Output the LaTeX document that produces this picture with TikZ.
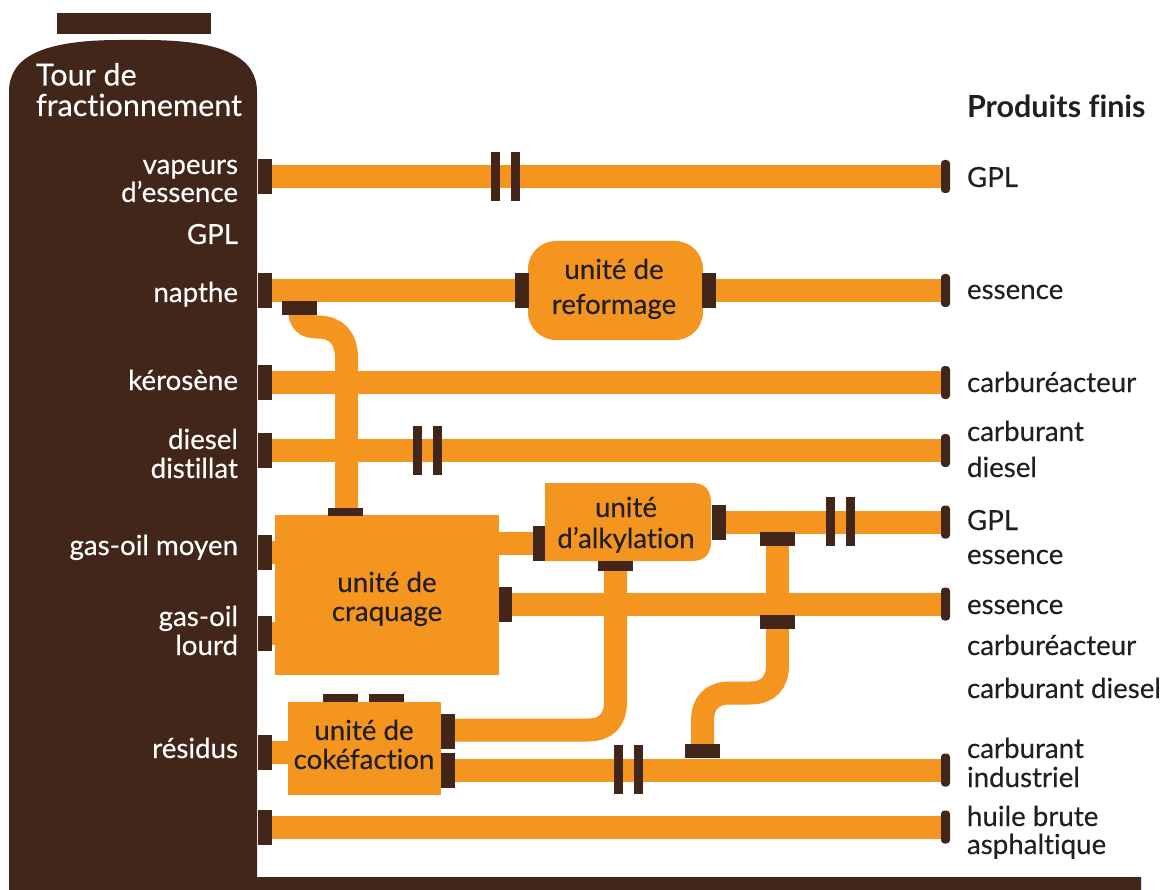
\documentclass[tikz,border=0pt]{standalone}
\usepackage{fontspec}
\setmainfont{Lato}[Ligatures=NoCommon,FakeBold=0.25,BoldFeatures={FakeBold=0}]
\usetikzlibrary{backgrounds}
\definecolor{pipeor}{HTML}{F3951F}
\definecolor{towerbr}{HTML}{42261A}
\definecolor{inkdk}{HTML}{231F20}
\tikzset{
  x=1pt,y=-1pt,
  pipe/.style={draw=pipeor,line width=23pt,line cap=butt},
  vcollar/.style={fill=towerbr,inner sep=0pt,outer sep=0pt,minimum width=14pt,minimum height=35pt},
  hcollar/.style={fill=towerbr,inner sep=0pt,outer sep=0pt,minimum width=35pt,minimum height=14pt},
  thincollar/.style={fill=towerbr,inner sep=0pt,outer sep=0pt,minimum width=35pt,minimum height=8pt},
  bar/.style={fill=towerbr,inner sep=0pt,outer sep=0pt,minimum width=9pt,minimum height=49pt},
  endcap/.style={fill=towerbr,inner sep=0pt,outer sep=0pt,rounded corners=3.5pt,minimum width=9pt,minimum height=33pt},
  unitbox/.style={fill=pipeor,inner sep=0pt,outer sep=0pt},
  lab/.style={inner sep=0pt,outer sep=0pt,font=\fontsize{27.7}{30}\selectfont},
  towerlab/.style={lab,text=white,anchor=base east,yshift=-1pt},
  prodlab/.style={lab,text=inkdk,anchor=base west,yshift=-1pt},
  unitlab/.style={lab,text=inkdk,anchor=base,yshift=-1pt},
}
\begin{document}
\begin{tikzpicture}
\useasboundingbox (0,0) rectangle (1164,890);
% tower
\fill[towerbr] (9,890) -- (9,92) .. controls (9,58) and (40,40) .. (120,40) -- (145,40) .. controls (225,40) and (257,58) .. (257,92) -- (257,877) -- (1141,877) -- (1141,890) -- cycle;
\node[fill=towerbr,inner sep=0pt,outer sep=0pt,minimum width=154pt,minimum height=21pt] (towercap) at (133.5,24) {};
% unit boxes
\node[unitbox,rounded corners=28pt,minimum width=175pt,minimum height=99pt] (reform) at (615.5,290.5) {};
\node[unitbox,minimum width=224pt,minimum height=160pt] (craq) at (387,595) {};
\fill[pipeor] (545,483) -- (692,483) .. controls (705,483) and (711,490) .. (711,503) -- (711,541) .. controls (711,554) and (705,561) .. (692,561) -- (545,561) -- cycle;
\node[unitbox,minimum width=153pt,minimum height=93pt] (coke) at (364.5,748.5) {};
% tower outlets
\node[vcollar] (t1) at (265,176.5) {};
\node[vcollar] (t2) at (265,290.5) {};
\node[vcollar] (t3) at (265,382.5) {};
\node[vcollar] (t4) at (265,450.5) {};
\node[vcollar] (t5) at (265,552.5) {};
\node[vcollar] (t6) at (265,633.5) {};
\node[vcollar] (t7) at (265,752.5) {};
\node[vcollar] (t8) at (265,827) {};
% outlet caps
\node[endcap] (e1) at (945.5,176.5) {};
\node[endcap] (e2) at (945.5,290.5) {};
\node[endcap] (e3) at (945.5,382.5) {};
\node[endcap] (e4) at (945.5,450.5) {};
\node[endcap] (e5) at (945.5,522) {};
\node[endcap] (e6) at (945.5,604) {};
\node[endcap] (e7) at (945.5,770) {};
\node[endcap] (e8) at (945.5,827) {};
% unit collars
\node[vcollar] (rfl) at (522,290.5) {};
\node[vcollar] (rfr) at (709,290.5) {};
\node[vcollar,minimum width=12pt] (akl) at (539,543.5) {};
\node[vcollar] (akr) at (719,522) {};
\node[vcollar,minimum width=13pt] (crr) at (505.5,604) {};
\node[vcollar] (ck1) at (448,731.5) {};
\node[vcollar] (ck2) at (448,770) {};
\node[hcollar] (nap) at (299.5,308) {};
\node[thincollar] (crt) at (345,512) {};
\node[thincollar,minimum height=10pt] (akb) at (615.5,566) {};
\node[hcollar] (g1) at (777.5,539) {};
\node[hcollar] (g2) at (777.5,622) {};
\node[hcollar] (g3) at (702.5,751) {};
\node[thincollar] (ckt1) at (340.5,698) {};
\node[thincollar] (ckt2) at (386.5,698) {};
% bars
\node[bar] (b1a) at (495.5,176.5) {};
\node[bar] (b1b) at (515.5,176.5) {};
\node[bar] (b4a) at (417.5,450.5) {};
\node[bar] (b4b) at (437.5,450.5) {};
\node[bar] (b5a) at (830.5,521.5) {};
\node[bar] (b5b) at (850.5,521.5) {};
\node[bar] (b7a) at (618.5,769.5) {};
\node[bar] (b7b) at (638.5,769.5) {};
% pipes
\begin{pgfonlayer}{background}
\draw[pipe] (t1.center) -- (e1.center);
\draw[pipe] (t2.center) -- (rfl.center);
\draw[pipe] (rfr.center) -- (e2.center);
\draw[pipe] (t3.center) -- (e3.center);
\draw[pipe] (t4.center) -- (e4.center);
\draw[pipe] (t5.center) -- (t5.center -| craq.west);
\draw[pipe] (t6.center) -- (t6.center -| craq.west);
\draw[pipe] (t7.center) -- (coke.west |- t7.center);
\draw[pipe] (craq.east |- akl.center) -- (akl.center);
\draw[pipe] (akr.center) -- (e5.center);
\draw[pipe] (crr.center) -- (e6.center);
\draw[pipe] (ck2.center) -- (e7.center);
\draw[pipe] (t8.center) -- (e8.center);
\draw[pipe] (nap.center) .. controls (299.5,322) and (305,327) .. (318,327) .. controls (336,327) and (346.5,338) .. (346.5,358) -- (346.5,512);
\draw[pipe] (akb.center) -- (615.5,702) .. controls (615.5,720) and (606,730) .. (588,730) -- ([yshift=1.5pt]ck1.center);
\draw[pipe] (g1.center) -- (g2.center);
\draw[pipe] (g2.center) -- (777.5,665) .. controls (777.5,683) and (768,693) .. (750,693) -- (730,693) .. controls (712,693) and (702.5,703) .. (702.5,721) -- (g3.center);
\end{pgfonlayer}
% tower labels
\node[lab,text=white,anchor=base west,font=\fontsize{30.5}{32}\selectfont] (tt1) at (36,85.5) {Tour de};
\node[lab,text=white,anchor=base west,font=\fontsize{30.5}{32}\selectfont] (tt2) at (36,116) {fractionnement};
\node[towerlab] (l1) at (238,173) {vapeurs};
\node[towerlab] (l2) at (238,201) {d’essence};
\node[towerlab] (l3) at (238,243) {GPL};
\node[towerlab] (l4) at (238,301) {napthe};
\node[towerlab] (l5) at (238,389) {kérosène};
\node[towerlab] (l6) at (238,448) {diesel};
\node[towerlab] (l7) at (238,477) {distillat};
\node[towerlab] (l8) at (238,554) {gas-oil moyen};
\node[towerlab] (l9) at (238,625) {gas-oil};
\node[towerlab] (l10) at (238,654) {lourd};
\node[towerlab] (l11) at (238,757) {résidus};
% product labels
\node[prodlab,font=\bfseries\fontsize{30.5}{32}\selectfont,yshift=1pt] (p0) at (967,118) {Produits finis};
\node[prodlab] (p1) at (967,186) {GPL};
\node[prodlab] (p2) at (967,298) {essence};
\node[prodlab] (p3) at (967,391) {carburéacteur};
\node[prodlab] (p4) at (967,440) {carburant};
\node[prodlab] (p5) at (967,476) {diesel};
\node[prodlab] (p6) at (967,529) {GPL};
\node[prodlab] (p7) at (967,563) {essence};
\node[prodlab] (p8) at (967,613) {essence};
\node[prodlab] (p9) at (967,654) {carburéacteur};
\node[prodlab] (p10) at (967,697) {carburant diesel};
\node[prodlab] (p11) at (967,757) {carburant};
\node[prodlab] (p12) at (967,786) {industriel};
\node[prodlab] (p13) at (967,825) {huile brute};
\node[prodlab] (p14) at (967,853) {asphaltique};
% unit labels
\node[unitlab] (u1) at (614,278) {unité de};
\node[unitlab] (u2) at (614,313) {reformage};
\node[unitlab] (u3) at (387,591) {unité de};
\node[unitlab] (u4) at (387,620) {craquage};
\node[unitlab] (u5) at (626,516) {unité};
\node[unitlab] (u6) at (626,547) {d’alkylation};
\node[unitlab] (u7) at (364,739) {unité de};
\node[unitlab] (u8) at (364,768) {cokéfaction};
\end{tikzpicture}
\end{document}
